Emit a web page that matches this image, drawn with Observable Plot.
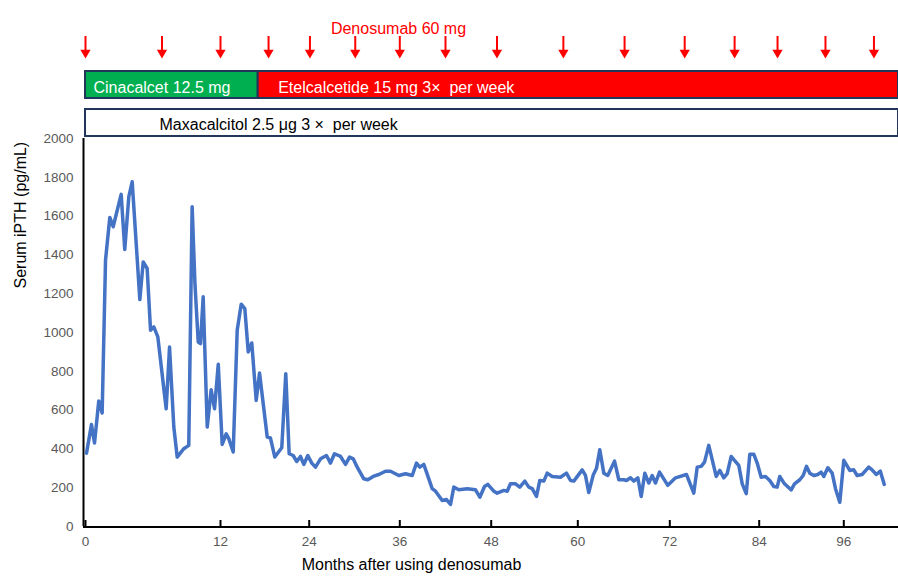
<!DOCTYPE html>
<html><head><meta charset="utf-8">
<script src="https://cdn.jsdelivr.net/npm/d3@7"></script>
<script src="https://cdn.jsdelivr.net/npm/@observablehq/plot@0.6"></script>
<style>
body{margin:0;background:#fff;}
#wrap{position:relative;width:898px;height:582px;overflow:hidden;}
#wrap svg{position:absolute;left:0;top:0;}
</style></head><body><div id="wrap"></div>
<script>
// ---- data ----
const months = [
  0.09,0.53,0.80,1.18,1.48,1.78,2.16,2.46,3.17,3.49,3.85,4.15,4.83,5.13,5.48,5.78,6.07,6.43,7.17,7.47,
  7.85,8.15,8.74,9.18,9.48,9.73,10.02,10.22,10.46,10.82,11.17,11.47,11.80,12.23,12.77,13.12,13.72,14.26,14.80,15.29,
  15.75,16.23,16.83,17.28,18.32,18.76,19.35,20.29,20.83,21.29,21.83,22.32,22.82,23.27,23.81,24.34,24.83,25.50,26.29,26.82,
  27.35,28.15,28.81,29.34,29.83,30.36,31.23,31.76,32.48,33.22,34.11,34.77,35.87,36.75,37.63,38.19,38.63,39.15,40.25,40.69,
  41.57,42.13,42.66,43.09,43.75,44.85,45.94,46.51,47.12,47.55,48.36,48.83,49.75,50.22,50.67,51.37,51.96,52.66,53.21,53.68,
  54.28,54.73,55.29,55.76,56.45,57.60,58.43,58.99,59.45,60.57,61.00,61.43,62.01,62.44,62.87,63.39,63.91,64.79,65.35,66.00,
  66.35,66.87,67.30,67.83,68.27,68.74,69.26,69.70,70.13,70.66,71.74,72.77,74.24,75.22,75.68,76.21,76.66,77.23,78.23,78.71,
  79.25,79.70,80.24,80.68,81.26,81.72,82.26,82.74,83.28,83.73,84.28,84.89,85.50,86.07,86.55,86.92,87.59,88.54,89.01,89.76,
  90.24,90.71,91.18,91.74,92.31,92.79,93.16,93.73,94.35,94.82,95.43,96.00,96.85,97.42,97.90,98.61,99.55,100.03,100.64,101.21,
  101.77
];
const ipth = [
  378,526,430,647,585,1373,1593,1545,1712,1428,1700,1777,1170,1364,1330,1012,1029,977,607,925,
  513,358,401,418,1648,1250,951,943,1184,513,705,607,836,423,478,453,384,1012,1146,1123,
  900,946,650,791,461,456,358,406,788,375,366,335,361,320,366,327,306,349,366,327,
  375,361,320,358,349,306,246,241,258,268,285,285,263,272,263,327,306,320,195,182,
  134,139,114,203,189,195,189,151,206,217,182,172,186,182,220,220,203,234,203,195,
  155,237,234,275,258,254,275,237,234,292,263,175,265,300,396,275,263,337,241,241,
  237,251,234,251,155,275,224,263,224,280,212,251,268,172,306,310,332,418,258,289,
  251,272,361,341,315,220,169,372,372,327,254,258,237,206,203,258,220,189,220,241,
  263,310,275,263,268,280,258,303,275,195,125,341,289,292,263,268,306,292,268,285,
  217
];
const doseMonths = [0, 6.8, 12, 18.5, 24.1, 30.1, 36, 42, 48.8, 58, 66.1, 74, 80.7, 86.6, 93.4, 100.3];
const xTicks = [0, 12, 24, 36, 48, 60, 72, 84, 96];
const yTicks = [0, 200, 400, 600, 800, 1000, 1200, 1400, 1600, 1800, 2000];
const xEnd = 103.8;
const treatName  = ["Cinacalcet", "Etelcalcetide", "Maxacalcitol"];
const treatLabel = ["Cinacalcet 12.5 mg", "Etelcalcetide 15 mg 3×\u00a0 per week", "Maxacalcitol 2.5 μg 3 ×\u00a0 per week"];
const treatRow   = ["calcimimetic", "calcimimetic", "vitd"];
const treatStart = [0, 17.1, 0];
const treatEnd   = [17.1, xEnd, xEnd];
const rows = ["dose", "calcimimetic", "vitd"];

// ---- layout / style (not data) ----
const font = "'Liberation Sans', Arial, Helvetica, sans-serif";
const border = "#22365c";
const fillFor = {Cinacalcet: "#00b050", Etelcalcetide: "#ff0000", Maxacalcitol: "#ffffff"};
const textFill = {Cinacalcet: "#ffffff", Etelcalcetide: "#ffffff", Maxacalcitol: "#000000"};
const textDx = {Cinacalcet: 8, Etelcalcetide: 20, Maxacalcitol: 74};
const textDy = {Cinacalcet: 2.5, Etelcalcetide: 2.5, Maxacalcitol: 1.5};
const xScale = {type: "linear",
  domain: [0, 12, 24, 36, 48, 60, 72, 84, 96, xEnd],
  range: [85, 220, 308.7, 399.3, 490.7, 577.3, 669.3, 758.7, 843.3, 898]};

const series = months.map((m, i) => ({month: m, ipth: ipth[i]}));
const treatments = treatName.map((n, i) => ({name: n, label: treatLabel[i], row: treatRow[i], start: treatStart[i], end: treatEnd[i]}));

const mainPlot = Plot.plot({
  width: 898, height: 582,
  marginLeft: 83, marginRight: 0, marginTop: 138, marginBottom: 56,
  x: xScale,
  y: {domain: [0, 2000]},
  style: {fontFamily: font, background: "transparent", overflow: "visible"},
  marks: [
    Plot.axisY(yTicks, {tickSize: 0, tickPadding: 10, fontSize: 13.5, color: "#595959", label: null, tickFormat: d => String(d)}),
    Plot.axisX(xTicks, {tickSize: 0, tickPadding: 10, fontSize: 13.5, color: "#595959", label: null, tickFormat: d => String(d)}),
    Plot.tickX(xTicks, {x: d => d, insetTop: 382, stroke: "#000", strokeWidth: 2}),
    Plot.ruleY([0], {stroke: "#000", strokeWidth: 2, dy: 0.5}),
    Plot.ruleX([0], {stroke: "#000", strokeWidth: 2, dx: -2}),
    Plot.line(series, {x: "month", y: "ipth", stroke: "#4472c4", strokeWidth: 3.5, strokeLinejoin: "round", strokeLinecap: "round"}),
    Plot.text(["Serum iPTH (pg/mL)"], {text: d => d, frameAnchor: "left", rotate: -90, dx: -63, dy: -44, fontSize: 16, fill: "#000"}),
    Plot.text(["Months after using denosumab"], {text: d => d, frameAnchor: "bottom-left", dx: 328, dy: 43, fontSize: 16, fill: "#000", textAnchor: "middle"})
  ]
});

const topPlot = Plot.plot({
  width: 898, height: 137,
  marginLeft: 83, marginRight: 0, marginTop: 0, marginBottom: 0,
  x: {...xScale, axis: null},
  y: {type: "band", domain: rows, range: [32, 136], paddingInner: 0.3, paddingOuter: 0, axis: null},
  color: {type: "identity"},
  style: {fontFamily: font, background: "transparent", overflow: "visible"},
  marks: [
    Plot.barX(treatments, {x1: "start", x2: "end", y: "row", fill: d => fillFor[d.name], stroke: border, strokeWidth: 2}),
    ...treatments.map(t => Plot.text([t], {x: "start", y: "row", text: "label", textAnchor: "start",
      dx: textDx[t.name], dy: textDy[t.name], fill: textFill[t.name], fontSize: 16})),
    Plot.ruleX(doseMonths, {x: d => d, y1: () => "dose", y2: () => "dose", insetTop: 3, insetBottom: 9, stroke: "#ff0000", strokeWidth: 2}),
    Plot.dot(doseMonths, {x: d => d, y: () => "dose", symbol: "triangle", rotate: 180, r: 3.8, fill: "#ff0000", stroke: "none", dy: 5.6}),
    Plot.text(["Denosumab 60 mg"], {text: d => d, frameAnchor: "top-left", dx: 315, dy: 22, fontSize: 16, fill: "#ff0000", textAnchor: "middle"})
  ]
});

const wrap = document.getElementById("wrap");
wrap.appendChild(mainPlot);
wrap.appendChild(topPlot);
</script>
</body></html>
